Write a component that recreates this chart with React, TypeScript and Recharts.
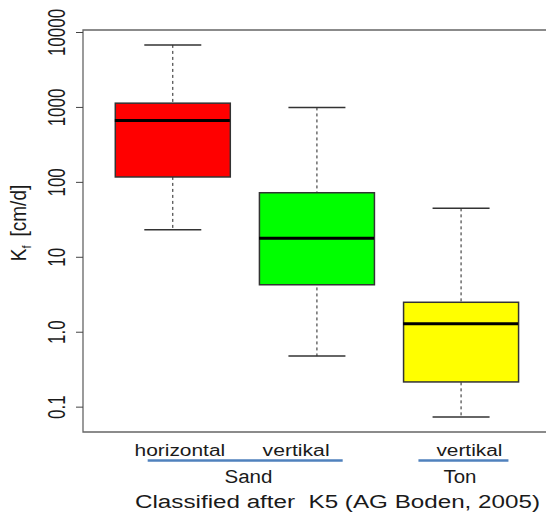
import { ComposedChart, Bar, Scatter, XAxis, YAxis, ReferenceArea, ReferenceDot, Cell, Label } from 'recharts'

// box plot stats
const positions = [1, 2, 3]
const categories = ['horizontal', 'vertikal', 'vertikal']
const groupNames = ['Sand', 'Ton']
const groupCenters = [1.5, 3]
const whiskerLow = [23.3, 0.48, 0.074]
const lowerQuartile = [118, 4.3, 0.217]
const medians = [670, 17.9, 1.3]
const upperQuartile = [1140, 72.7, 2.51]
const whiskerHigh = [6830, 1000, 45]
const yTicks = [0.1, 1, 10, 100, 1000, 10000]
const yTickLabels = ['0.1', '1.0', '10', '100', '1000', '10000']
const caption = 'Classified after  K5 (AG Boden, 2005)'

const boxColors = ['#ff0000', '#00ff00', '#ffff00']
const X_DOMAIN = [0.38, 3.62]
const Y_DOMAIN = [0.0466, 10800]
const BOX_W = 115
const CAP_W = 57
const FONT = '"Liberation Sans", Arial, sans-serif'
const INK = '#1a1a1a'

// hand offsets for the labels under the axis
const catDx = [7.5, -20.4, 8.8]
const catLen = [90.7, 67, 66]
const groupDx = [4, -0.7]
const groupLen = [48, 33]
const groupLineDx = [0.75, 2.8]
const groupLineW = [195, 90]

const data = positions.map((pos, i) => ({
  pos,
  range: [whiskerLow[i], whiskerHigh[i]],
  box: [lowerQuartile[i], upperQuartile[i]],
  median: medians[i],
}))

const WhiskerShape = (p: any) => {
  const cx = p.x + p.width / 2
  const top = Math.min(p.y, p.y + p.height)
  const bot = Math.max(p.y, p.y + p.height)
  return (
    <g>
      <line x1={cx} x2={cx} y1={top} y2={bot} stroke="#222" strokeDasharray="3 3" />
      <line x1={cx - CAP_W / 2} x2={cx + CAP_W / 2} y1={top} y2={top} stroke="#333" strokeWidth={1.5} />
      <line x1={cx - CAP_W / 2} x2={cx + CAP_W / 2} y1={bot} y2={bot} stroke="#333" strokeWidth={1.5} />
    </g>
  )
}

const BoxShape = (p: any) => {
  const top = Math.min(p.y, p.y + p.height)
  const h = Math.abs(p.height)
  return <rect x={p.x} y={top} width={p.width} height={h} fill={p.fill} stroke="#333" strokeWidth={1.5} />
}

const MedianShape = (p: any) => (
  <line x1={p.cx - BOX_W / 2} x2={p.cx + BOX_W / 2} y1={p.cy} y2={p.cy} stroke="#000" strokeWidth={3} />
)

const YTick = ({ x, y, payload, index }: any) => {
  const i = yTicks.indexOf(payload.value)
  return (
    <text
      transform={`translate(${x - 9},${y}) scale(1.4,1) rotate(-90)`}
      textAnchor="middle"
      fontSize={17}
      fontFamily={FONT}
      fill={INK}
    >
      {yTickLabels[i >= 0 ? i : index]}
    </text>
  )
}

const CatTick = ({ x, y, index }: any) => (
  <text
    x={x + catDx[index]}
    y={y + 24}
    textAnchor="middle"
    fontSize={16}
    fontFamily={FONT}
    fill={INK}
    textLength={catLen[index]}
    lengthAdjust="spacingAndGlyphs"
  >
    {categories[index]}
  </text>
)

// group bracket under the categories, anchored at the bottom of the plot
const makeGroupShape = (index: number) => (p: any) => {
  const lx = p.cx + groupLineDx[index]
  return (
    <g>
      <line
        x1={lx - groupLineW[index] / 2}
        x2={lx + groupLineW[index] / 2}
        y1={p.cy + 28.5}
        y2={p.cy + 28.5}
        stroke="#4f81bd"
        strokeWidth={2.5}
      />
      <text
        x={p.cx + groupDx[index]}
        y={p.cy + 51}
        textAnchor="middle"
        fontSize={18}
        fontFamily={FONT}
        fill={INK}
        textLength={groupLen[index]}
        lengthAdjust="spacingAndGlyphs"
      >
        {groupNames[index]}
      </text>
    </g>
  )
}

const CaptionLabel = ({ viewBox }: any) => (
  <text
    x={viewBox.x + viewBox.width / 2 + 21}
    y={viewBox.y + 76}
    textAnchor="middle"
    fontSize={18}
    fontFamily={FONT}
    fill={INK}
    style={{ whiteSpace: 'pre' }}
    textLength={405}
    lengthAdjust="spacingAndGlyphs"
  >
    {caption}
  </text>
)

const YAxisLabel = ({ viewBox }: any) => (
  <text
    transform={`translate(${viewBox.x + 26},${viewBox.y + viewBox.height / 2 - 8}) scale(1.2,1) rotate(-90)`}
    textAnchor="middle"
    fontSize={19}
    fontFamily={FONT}
    fill={INK}
  >
    K
    <tspan fontSize={11} dy={4}>f</tspan>
    <tspan dx={9} dy={-4}>[cm/d]</tspan>
  </text>
)

export default function App() {
  return (
    <div style={{ position: 'absolute', left: 0, top: 0, width: 546, height: 517, overflow: 'hidden', background: '#fff' }}>
      <ComposedChart
        width={560}
        height={517}
        data={data}
        barGap={-BOX_W}
        margin={{ top: 30, right: 10, bottom: 0, left: 0 }}
      >
        <YAxis
          scale="log"
          type="number"
          domain={Y_DOMAIN}
          allowDataOverflow
          ticks={yTicks}
          interval={0}
          width={83}
          axisLine={false}
          tickSize={7}
          tickLine={{ stroke: '#444' }}
          tick={<YTick />}
        >
          <Label content={<YAxisLabel />} />
        </YAxis>
        <XAxis
          dataKey="pos"
          type="number"
          domain={X_DOMAIN}
          allowDataOverflow
          ticks={positions}
          interval={0}
          height={85}
          tickSize={0}
          tickMargin={0}
          axisLine={false}
          tickLine={false}
          tick={<CatTick />}
        >
          <Label content={<CaptionLabel />} />
        </XAxis>

        <Bar dataKey="range" barSize={BOX_W} shape={<WhiskerShape />} isAnimationActive={false} />
        <Bar dataKey="box" barSize={BOX_W} shape={<BoxShape />} isAnimationActive={false}>
          {data.map((d, i) => (
            <Cell key={d.pos} fill={boxColors[i]} />
          ))}
        </Bar>
        <Scatter dataKey="median" shape={<MedianShape />} isAnimationActive={false} />
        <ReferenceArea
          x1={X_DOMAIN[0]}
          x2={X_DOMAIN[1]}
          y1={Y_DOMAIN[0]}
          y2={Y_DOMAIN[1]}
          fill="none"
          fillOpacity={0}
          stroke="#666"
          strokeWidth={1.3}
        />
        {groupCenters.map((c, i) => (
          <ReferenceDot key={groupNames[i]} x={c} y={Y_DOMAIN[0]} ifOverflow="visible" shape={makeGroupShape(i)} />
        ))}
      </ComposedChart>
    </div>
  )
}
